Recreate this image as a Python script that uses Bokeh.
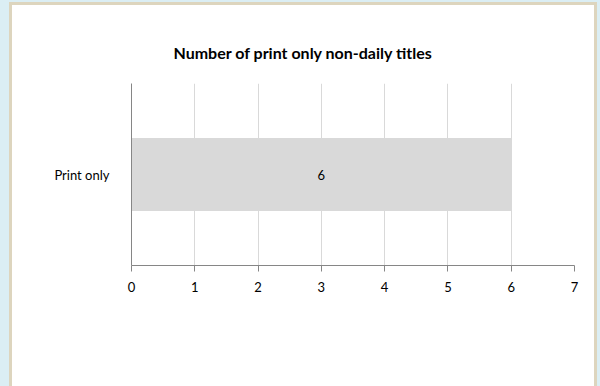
from bokeh.plotting import figure
from bokeh.models import (ColumnDataSource, FactorRange, Range1d, FixedTicker, Legend,
                          LegendItem, LabelSet, GlobalInlineStyleSheet)
from bokeh.core.properties import value
from bokeh.embed import file_html
from bokeh.resources import INLINE

categories = ["Print only"]
series_names = ["Free only", "Paid only", "Both free and paid"]
free_only = [6]
paid_only = [0]
both_free_paid = [0]
x_ticks = [0, 1, 2, 3, 4, 5, 6, 7]
title_text = "Number of print only non-daily titles"

colors = ["#D9D9D9", "#B9CDE5", "#9BBB59"]
FONT = "Lato"

src = ColumnDataSource(data=dict(
    cat=categories,
    free=free_only,
    paid=paid_only,
    both=both_free_paid,
))

p = figure(width=582, height=380, frame_width=443, frame_height=182,
           output_backend="svg", toolbar_location=None,
           y_range=FactorRange(factors=categories, range_padding=0),
           x_range=Range1d(x_ticks[0], x_ticks[-1]),
           min_border_left=119, min_border_right=20, min_border_top=78, min_border_bottom=0)

renderers = p.hbar_stack(["free", "paid", "both"], y="cat", height=0.4, color=colors,
                         source=src, line_color=None)

# data label centered on the bar
lbl_src = ColumnDataSource(data=dict(
    x=[v / 2 for v in free_only], y=categories, t=[str(v) for v in free_only]))
labels = LabelSet(x="x", y="y", text="t", source=lbl_src, text_align="center",
                  text_baseline="middle", text_font=value(FONT), text_font_size="13px",
                  text_color="#000000")
p.add_layout(labels)

p.title.text = title_text
p.title.align = "left"
p.title.offset = 42
p.title.text_font = FONT
p.title.text_font_size = "16px"
p.title.text_font_style = "bold"
p.title.text_color = "#000000"
p.title.standoff = 43

p.background_fill_color = "white"
p.border_fill_color = "white"
p.outline_line_color = None

p.xgrid.grid_line_color = "#D9D9D9"
p.xgrid.ticker = FixedTicker(ticks=x_ticks)
p.ygrid.grid_line_color = None

p.xaxis.ticker = FixedTicker(ticks=x_ticks)
p.xaxis.axis_line_color = "#868686"
p.xaxis.major_tick_line_color = "#868686"
p.xaxis.major_tick_out = 6
p.xaxis.major_tick_in = 0
p.xaxis.minor_tick_line_color = None
p.xaxis.major_label_text_font = FONT
p.xaxis.major_label_text_font_size = "13px"
p.xaxis.major_label_text_color = "#000000"
p.xaxis.major_label_standoff = 10

p.yaxis.axis_line_color = "#868686"
p.yaxis.major_tick_line_color = None
p.yaxis.major_label_text_font = FONT
p.yaxis.major_label_text_font_size = "13px"
p.yaxis.major_label_text_color = "#000000"
p.yaxis.major_label_standoff = 16

legend = Legend(items=[LegendItem(label=n, renderers=[r]) for n, r in zip(series_names, renderers)],
                orientation="horizontal", location=(-56, 40),
                glyph_width=7, glyph_height=9, label_standoff=2, spacing=46, label_height=12,
                label_text_font=FONT, label_text_font_size="12px", label_text_color="#000000",
                background_fill_alpha=0, border_line_color=None, padding=0, margin=0)
p.add_layout(legend, "below")

p.stylesheets = [GlobalInlineStyleSheet(css="body{background:#DBEEF4;}")]
p.styles = {"border-left": "3px solid #DDD5BE", "border-right": "3px solid #DDD5BE",
            "border-top": "3px solid #DDD5BE", "margin-left": "9px", "margin-top": "2px",
            "background-color": "white"}

open("out.html", "w").write(file_html(p, INLINE))
